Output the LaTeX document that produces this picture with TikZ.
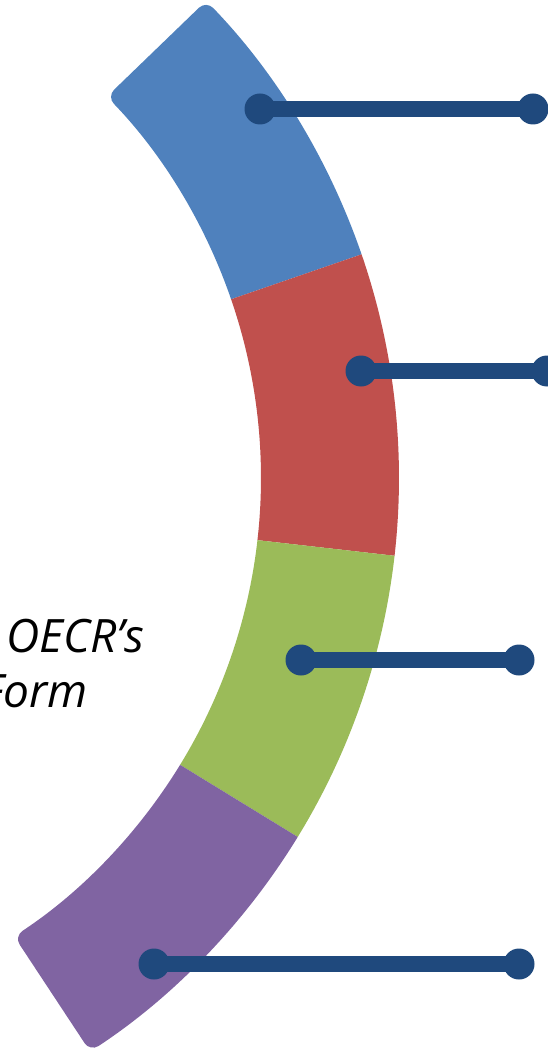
\documentclass[tikz,border=0pt]{standalone}
\usepackage{fontspec}
\newfontfamily\labelfont{Open Sans}
\usepackage{tikz}
\usetikzlibrary{positioning}

\definecolor{partblue}{HTML}{4F81BD}
\definecolor{partred}{HTML}{C0504D}
\definecolor{partgreen}{HTML}{9BBB59}
\definecolor{partpurple}{HTML}{8064A2}
\definecolor{linkblue}{HTML}{1F497D}

\tikzset{
	dot/.style={circle,fill=linkblue,inner sep=0pt,minimum size=31pt},
	link/.style={draw=linkblue,line width=16pt},
	caption/.style={font=\labelfont\itshape\fontsize{46}{55}\selectfont,inner sep=0pt}
}

\begin{document}
\begin{tikzpicture}[x=1pt,y=1pt]
	\useasboundingbox (0,0) rectangle (548,-1048);
	\clip (0,0) rectangle (548,-1048);
	% ring parts around a centre far to the left
	\begin{scope}[shift={(-288,-478)}]
		\fill[partblue] (19:549) [rounded corners=10pt] arc[start angle=19,end angle=44,radius=549]
			-- (44:687) [sharp corners] arc[start angle=44,end angle=19,radius=687] -- cycle;
		\fill[partred] (-6.5:549) arc[start angle=-6.5,end angle=19,radius=549]
			-- (19:687) arc[start angle=19,end angle=-6.5,radius=687] -- cycle;
		\fill[partgreen] (-31.5:549) arc[start angle=-31.5,end angle=-6.5,radius=549]
			-- (-6.5:687) arc[start angle=-6.5,end angle=-31.5,radius=687] -- cycle;
		\fill[partpurple] (-31.5:549) [rounded corners=10pt] arc[start angle=-31.5,end angle=-56.6,radius=549]
			-- (-56.6:687) [sharp corners] arc[start angle=-56.6,end angle=-31.5,radius=687] -- cycle;
	\end{scope}
	% callout lines
	\node[dot] (1a) at (260,-109) {};
	\node[dot] (1b) at (533,-109) {};
	\node[dot] (2a) at (361,-371) {};
	\node[dot] (2b) at (547,-371) {};
	\node[dot] (3a) at (301,-660) {};
	\node[dot] (3b) at (519,-660) {};
	\node[dot] (4a) at (154,-964) {};
	\node[dot] (4b) at (519,-964) {};
	\path[link]
		(1a.center) -- (1b.center)
		(2a.center) -- (2b.center)
		(3a.center) -- (3b.center)
		(4a.center) -- (4b.center);
	% text
	\node[caption,anchor=base west] (t1) at (6,-652) {OECR’s};
	\node[caption,anchor=base east] (t2) at (88,-707) {Form};
\end{tikzpicture}
\end{document}
